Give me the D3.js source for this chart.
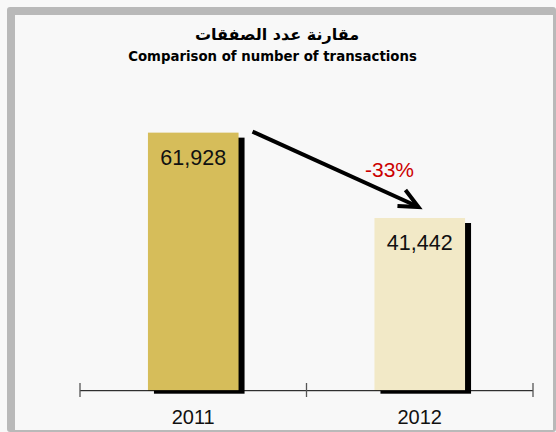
<!DOCTYPE html>
<html>
<head>
<meta charset="utf-8">
<script src="https://cdn.jsdelivr.net/npm/d3@7"></script>
<style>
  body { margin: 0; background: #f8f8f8; }
  svg { display: block; }
</style>
</head>
<body>
<svg width="556" height="432"></svg>
<script>
// chart data
let years = ['2011', '2012'];
let transactions = [61928, 41442];
let barColors = ['#d6bd5a', '#f2e9c7'];
let changeLabel = '-33%';
let titleAr = 'مقارنة عدد الصفقات';
let titleEn = 'Comparison of number of transactions';

let svg = d3.select('svg');

// frame
svg.append('rect')
  .attr('x', 7).attr('y', 7)
  .attr('width', 549).attr('height', 425)
  .attr('rx', 3)
  .attr('fill', '#b9b9b9');
svg.append('rect')
  .attr('x', 15).attr('y', 15)
  .attr('width', 538).attr('height', 415)
  .attr('fill', '#f8f8f8');

// scales
let xScale = d3.scaleBand().domain(years).range([80, 533]).padding(0);
let yScale = d3.scaleLinear().domain([0, 70000]).range([390.7, 99]);

let barW = xScale.bandwidth() * 0.4;
let barX = (d) => xScale(d) + (xScale.bandwidth() - barW) / 2;

let data = years.map((y, i) => ({year: y, value: transactions[i], color: barColors[i]}));

// shadows
svg.selectAll('.shadow')
  .data(data)
  .enter().append('rect')
  .attr('x', (d) => barX(d.year) + 6)
  .attr('y', (d) => yScale(d.value) + 5)
  .attr('width', barW)
  .attr('height', (d) => yScale(0) - yScale(d.value) - 2)
  .attr('fill', '#000');

// bars
svg.selectAll('.bar')
  .data(data)
  .enter().append('rect')
  .attr('x', (d) => barX(d.year))
  .attr('y', (d) => yScale(d.value))
  .attr('width', barW)
  .attr('height', (d) => yScale(0) - yScale(d.value))
  .attr('fill', (d) => d.color);

// axis line + ticks at band edges
svg.append('line')
  .attr('x1', 80).attr('x2', 533)
  .attr('y1', yScale(0)).attr('y2', yScale(0))
  .attr('stroke', '#000').attr('stroke-width', 1);
let edges = years.map((d) => xScale(d)).concat([xScale(years[years.length - 1]) + xScale.bandwidth()]);
svg.selectAll('.tick')
  .data(edges)
  .enter().append('line')
  .attr('x1', (d) => d).attr('x2', (d) => d)
  .attr('y1', 383).attr('y2', 397)
  .attr('stroke', '#555').attr('stroke-width', 1.3);

// year labels
svg.selectAll('.year')
  .data(data)
  .enter().append('text')
  .attr('x', (d) => xScale(d.year) + xScale.bandwidth() / 2)
  .attr('y', 424)
  .attr('text-anchor', 'middle')
  .style('font-family', 'Liberation Sans, Arial, sans-serif')
  .style('font-size', '20px')
  .attr('fill', '#111')
  .text((d) => d.year);

// value labels
svg.selectAll('.val')
  .data(data)
  .enter().append('text')
  .attr('x', (d) => barX(d.year) + barW / 2)
  .attr('y', (d) => yScale(d.value) + 32)
  .attr('text-anchor', 'middle')
  .style('font-family', 'Liberation Sans, Arial, sans-serif')
  .style('font-size', '21.5px')
  .attr('fill', '#111')
  .text((d) => d3.format(',')(d.value));

// arrow
let x1 = barX(years[0]) + barW + 14, y1 = yScale(transactions[0]) - 1;
let x2 = barX(years[1]) + 44, y2 = yScale(transactions[1]) - 11;
svg.append('line')
  .attr('x1', x1).attr('y1', y1)
  .attr('x2', x2 - 3).attr('y2', y2 - 1.5)
  .attr('stroke', '#000').attr('stroke-width', 4);
svg.append('path')
  .attr('d', `M${x2 - 13},${y2 - 17} L${x2},${y2} L${x2 - 21},${y2 - 1}`)
  .attr('fill', 'none')
  .attr('stroke', '#000').attr('stroke-width', 4)
  .attr('stroke-linejoin', 'miter');

svg.append('text')
  .attr('x', 389.5).attr('y', 177)
  .attr('text-anchor', 'middle')
  .style('font-family', 'Liberation Sans, Arial, sans-serif')
  .style('font-size', '21px')
  .attr('fill', '#cc0000')
  .text(changeLabel);

// titles
svg.append('text')
  .attr('x', 277).attr('y', 40)
  .attr('text-anchor', 'middle')
  .style('font-family', 'DejaVu Sans, sans-serif')
  .style('font-weight', 'bold')
  .style('font-size', '16px')
  .attr('fill', '#000')
  .text(titleAr);
svg.append('text')
  .attr('x', 272.5).attr('y', 61)
  .attr('text-anchor', 'middle')
  .style('font-family', 'DejaVu Sans, sans-serif')
  .style('font-weight', 'bold')
  .style('font-size', '13.3px')
  .attr('fill', '#000')
  .text(titleEn);
</script>
</body>
</html>
